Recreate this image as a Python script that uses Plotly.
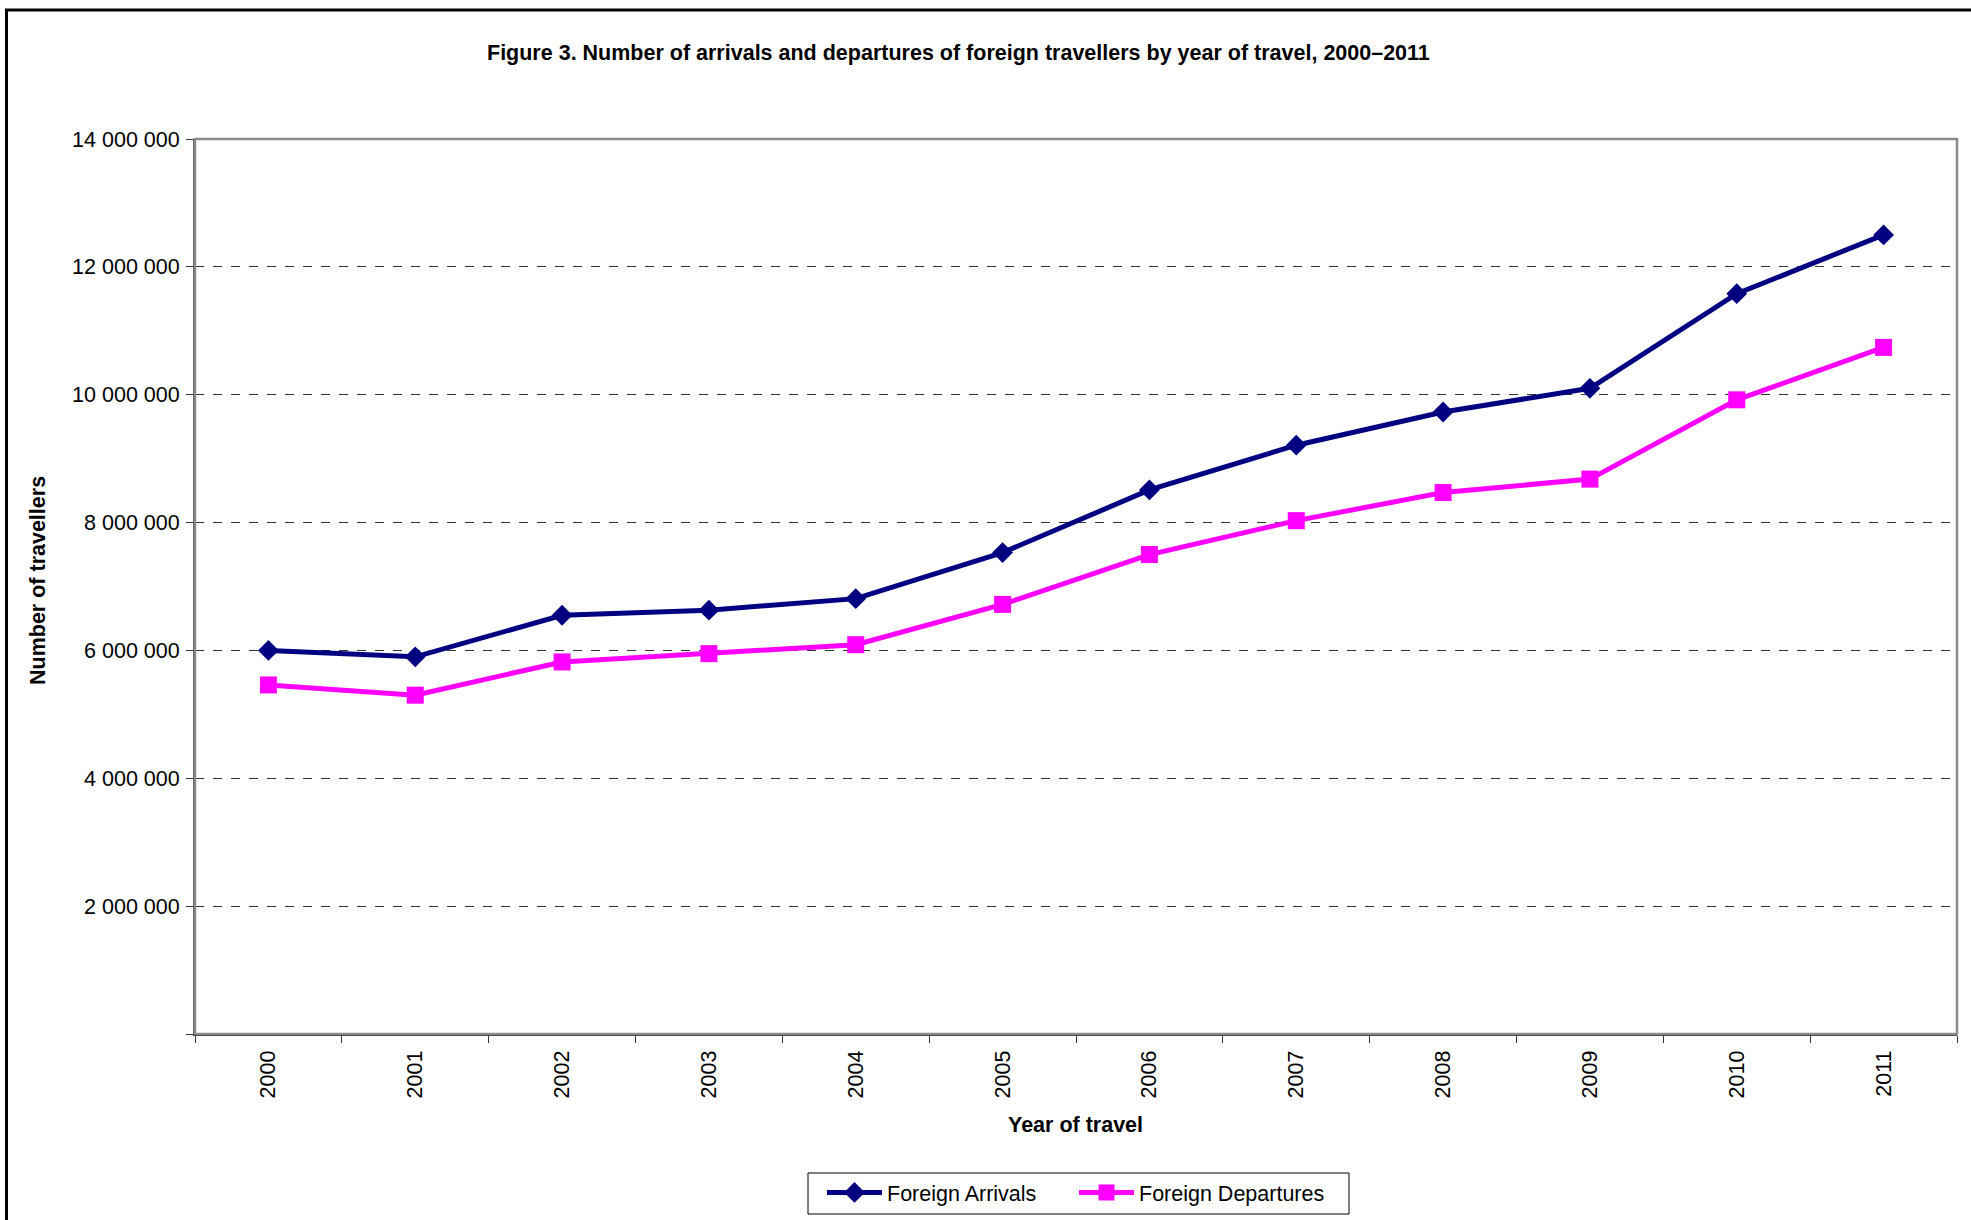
import plotly.graph_objects as go

years = ["2000", "2001", "2002", "2003", "2004", "2005", "2006", "2007", "2008", "2009", "2010", "2011"]
arrivals = [6000000, 5900000, 6550000, 6630000, 6810000, 7530000, 8510000, 9210000, 9730000, 10100000, 11580000, 12500000]
departures = [5460000, 5300000, 5820000, 5950000, 6090000, 6720000, 7500000, 8030000, 8470000, 8680000, 9920000, 10740000]
y_tickvals = [0, 2000000, 4000000, 6000000, 8000000, 10000000, 12000000, 14000000]
y_ticktext = ["", "2 000 000", "4 000 000", "6 000 000", "8 000 000", "10 000 000", "12 000 000", "14 000 000"]

FONT = "Liberation Sans, Arial, sans-serif"
FS = 21.5
W, H = 1971, 1220
L, R, T, B = 195, 14, 139, 186
pw = W - L - R
ph = H - T - B

def px_x(x):
    return (x - L) / pw

def px_y(y):
    return (H - B - y) / ph

fig = go.Figure()
fig.add_trace(go.Scatter(
    x=years, y=arrivals, name="Foreign Arrivals", mode="lines+markers",
    line=dict(color="#000080", width=5),
    marker=dict(symbol="diamond", size=16, color="#000080"),
))
fig.add_trace(go.Scatter(
    x=years, y=departures, name="Foreign Departures", mode="lines+markers",
    line=dict(color="#FF00FF", width=5),
    marker=dict(symbol="square", size=17, color="#FF00FF"),
))

fig.update_layout(
    width=W, height=H,
    margin=dict(l=L, r=R, t=T, b=B, autoexpand=False),
    paper_bgcolor="white", plot_bgcolor="white",
    font=dict(family=FONT, size=FS, color="black"),
    showlegend=True,
    legend=dict(
        orientation="h", x=px_x(822), xanchor="left", y=px_y(1172), yanchor="top",
        borderwidth=0, bgcolor="rgba(0,0,0,0)",
        font=dict(family=FONT, size=FS, color="black"),
        itemwidth=55, tracegroupgap=0, entrywidth=182,
    ),
)

fig.update_xaxes(
    type="category", range=[-0.5, 11.5], tickmode="array", tickvals=years, ticktext=years,
    tickangle=-90, tickson="boundaries", ticks="outside", ticklen=7, tickwidth=1, tickcolor="#333",
    showgrid=False, showline=True, linecolor="#333", linewidth=2,
    tickfont=dict(family=FONT, size=FS, color="black"),
    ticklabelstandoff=6,
)
fig.update_yaxes(
    range=[0, 14000000], tickmode="array", tickvals=y_tickvals, ticktext=y_ticktext,
    ticks="outside", ticklen=7, tickwidth=1, tickcolor="#333",
    showgrid=True, gridcolor="#333333", gridwidth=1, griddash="dash",
    showline=True, linecolor="#555", linewidth=2, zeroline=False,
    tickfont=dict(family=FONT, size=FS, color="black"),
    ticklabelstandoff=2,
)

# plot area frame (top/right)
fig.add_shape(type="rect", xref="paper", yref="paper", x0=0, y0=0, x1=1, y1=1,
              line=dict(color="#8a8a8a", width=2.5), layer="above")
# outer chart border (extends past right/bottom edges)
fig.add_shape(type="rect", xref="paper", yref="paper",
              x0=px_x(6.5), y0=px_y(1400), x1=px_x(2200), y1=px_y(10),
              line=dict(color="black", width=3), layer="above")
# legend box
fig.add_shape(type="rect", xref="paper", yref="paper",
              x0=px_x(808), y0=px_y(1214), x1=px_x(1349), y1=px_y(1173),
              line=dict(color="black", width=1), layer="below")

fig.add_annotation(
    text="Figure 3. Number of arrivals and departures of foreign travellers by year of travel, 2000\u20132011",
    xref="paper", yref="paper", x=px_x(958), y=px_y(53), xanchor="center", yanchor="middle",
    showarrow=False, font=dict(family=FONT, size=FS, color="black", weight="bold"),
)
fig.add_annotation(
    text="Year of travel", xref="paper", yref="paper", x=px_x(1075), y=px_y(1125),
    xanchor="center", yanchor="middle", showarrow=False,
    font=dict(family=FONT, size=FS, color="black", weight="bold"),
)
fig.add_annotation(
    text="Number of travellers", xref="paper", yref="paper", x=px_x(38), y=px_y(581),
    xanchor="center", yanchor="middle", showarrow=False, textangle=-90,
    font=dict(family=FONT, size=FS, color="black", weight="bold"),
)

fig.write_html("out.html", config={"displayModeBar": False},
               post_script="document.body.style.margin='0';document.body.style.padding='0';")
